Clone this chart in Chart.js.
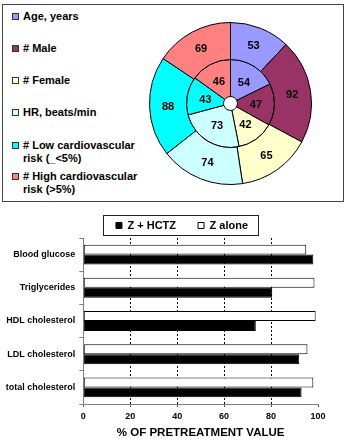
<!DOCTYPE html>
<html><head><meta charset="utf-8">
<script src="https://cdn.jsdelivr.net/npm/chart.js@4.4.0/dist/chart.umd.min.js"></script>
<style>
html,body{margin:0;padding:0;background:#fff;width:350px;height:446px;overflow:hidden;font-family:"Liberation Sans",Arial,sans-serif;}
#box{position:absolute;left:2px;top:4px;width:340px;height:196px;border:1px solid #444;}
.li{position:absolute;left:12px;font-weight:bold;font-size:11px;line-height:12.5px;color:#000;}
.sw{position:absolute;left:0;top:3px;width:5px;height:5px;border:1px solid #333;}
.tx{position:absolute;left:11px;top:0;width:124px;}
#c1wrap{position:absolute;left:149px;top:22px;width:163px;height:163px;}
#c2wrap{position:absolute;left:0;top:205px;width:350px;height:241px;}
</style>
</head><body>
<div id="box"></div>
<div id="legend1"></div>
<div id="c1wrap"><canvas id="c1" width="163" height="163"></canvas></div>
<div id="c2wrap"><canvas id="c2" width="350" height="241"></canvas></div>
<script>
// ---- top doughnut data ----
const segmentLabels = ['Age, years', '# Male', '# Female', 'HR, beats/min', '# Low cardiovascular risk (_<5%)', '# High cardiovascular risk (>5%)'];
const segmentColors = ['#9999FF', '#993366', '#FFFFCC', '#CCFFFF', '#00FFFF', '#FF8080'];
const outerValues = [53, 92, 65, 74, 88, 69];
const innerValues = [54, 47, 42, 73, 43, 46];

// ---- bottom bar data ----
const measureLabels = ['Blood glucose', 'Triglycerides', 'HDL cholesterol', 'LDL cholesterol', 'total cholesterol'];
const zAloneValues = [95, 98.5, 99, 95.5, 98];
const zHctzValues = [98, 80.5, 73.5, 92, 93];
const xTickValues = [0, 20, 40, 60, 80, 100];

Chart.defaults.font.family = '"Liberation Sans", Arial, sans-serif';
Chart.defaults.color = '#000';

// HTML legend for the doughnut
const legendTops = [10, 42, 74, 106, 139, 170];
const lg = document.getElementById('legend1');
segmentLabels.forEach((t, i) => {
  const d = document.createElement('div');
  d.className = 'li';
  d.style.top = legendTops[i] + 'px';
  const s = document.createElement('div');
  s.className = 'sw';
  s.style.background = segmentColors[i];
  const tx = document.createElement('div');
  tx.className = 'tx';
  tx.textContent = t;
  d.appendChild(s); d.appendChild(tx);
  lg.appendChild(d);
});

const arcLabels = {
  id: 'arcLabels',
  afterDatasetsDraw(chart) {
    const ctx = chart.ctx;
    ctx.save();
    ctx.font = 'bold 11px "Liberation Sans", Arial, sans-serif';
    ctx.fillStyle = '#000';
    ctx.textAlign = 'center';
    ctx.textBaseline = 'middle';
    chart.data.datasets.forEach((ds, i) => {
      chart.getDatasetMeta(i).data.forEach((arc, j) => {
        const p = arc.tooltipPosition();
        ctx.fillText(String(ds.data[j]), p.x, p.y + 1);
      });
    });
    ctx.restore();
  }
};

new Chart(document.getElementById('c1'), {
  type: 'doughnut',
  data: {
    labels: segmentLabels,
    datasets: [
      { data: outerValues, backgroundColor: segmentColors, borderColor: '#000', borderWidth: 1 },
      { data: innerValues, backgroundColor: segmentColors, borderColor: '#000', borderWidth: 1 }
    ]
  },
  options: {
    responsive: false, animation: false,
    cutout: '8.6%',
    events: [],
    plugins: { legend: { display: false }, tooltip: { enabled: false } }
  },
  plugins: [arcLabels]
});

// centre the legend over the reference position and frame it
const legendBox = {
  id: 'legendBox',
  beforeDraw(chart) {
    const lgd = chart.legend;
    if (!lgd._shifted) { lgd.left = 46; lgd._shifted = true; }
  },
  afterDraw(chart) {
    const lgd = chart.legend;
    const p = lgd.options.labels.padding;
    const lw = lgd.lineWidths[0];
    const l = (lgd.left + p + lgd.right - lw) / 2;
    const r = l + lw - p;
    const t = lgd.top + p;
    const b = t + 11;
    const ctx = chart.ctx;
    ctx.save();
    ctx.strokeStyle = '#222';
    ctx.lineWidth = 1;
    ctx.strokeRect(Math.round(l - 13) + 0.5, Math.round(t - 5) + 0.5, Math.round(r - l + 23), Math.round(b - t + 9));
    ctx.restore();
  }
};

new Chart(document.getElementById('c2'), {
  type: 'bar',
  data: {
    labels: measureLabels,
    datasets: [
      { label: 'Z alone', data: zAloneValues, backgroundColor: '#fff', borderColor: '#000', borderWidth: 1, borderSkipped: false },
      { label: 'Z + HCTZ', data: zHctzValues, backgroundColor: '#000', borderColor: '#000', borderWidth: 1, borderSkipped: false }
    ]
  },
  options: {
    indexAxis: 'y',
    responsive: false, animation: false, events: [],
    layout: { padding: { top: -7, left: 0, right: 32, bottom: 0 } },
    datasets: { bar: { categoryPercentage: 0.6, barPercentage: 1 } },
    plugins: {
      tooltip: { enabled: false },
      legend: {
        reverse: true,
        maxHeight: 40,
        labels: { boxWidth: 6, boxHeight: 6, padding: 22, color: '#000', font: { size: 11, weight: 'bold' } }
      }
    },
    scales: {
      x: {
        min: 0, max: 100,
        afterBuildTicks(s) { s.ticks = xTickValues.map(v => ({ value: v })); },
        afterFit(s) { s.height = 42; },
        ticks: { color: '#000', font: { size: 9, weight: 'bold' }, padding: 4 },
        grid: {
          color: c => (c.tick && (c.tick.value === 0 || c.tick.value === 100)) ? 'rgba(0,0,0,0)' : '#000',
          lineWidth: 1, tickLength: 3, tickColor: '#555', tickBorderDash: []
        },
        border: { display: true, color: '#808080', width: 1, dash: [2, 2] },
        title: { display: true, text: '% OF PRETREATMENT VALUE', color: '#000', font: { size: 11.5, weight: 'bold' }, padding: { top: 0, bottom: 6 } }
      },
      y: {
        afterFit(s) { s.width = 83.3; },
        ticks: { color: '#000', font: { size: 9, weight: 'bold' }, padding: 4 },
        grid: { drawOnChartArea: false, drawTicks: true, tickLength: 4, color: '#808080' },
        border: { display: true, color: '#808080', width: 1 }
      }
    }
  },
  plugins: [legendBox]
});
</script>
</body></html>
